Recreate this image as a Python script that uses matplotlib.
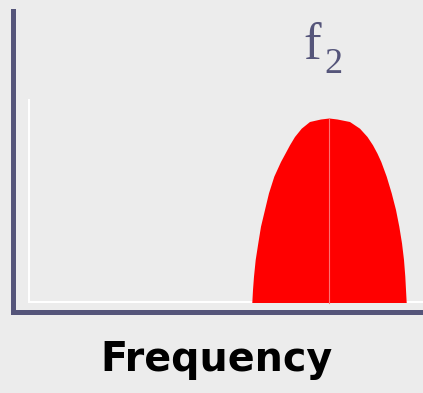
import matplotlib
matplotlib.use("Agg")
import matplotlib.pyplot as plt

# outline of the f2 band (frequency, amplitude)
left_freq = [317.0, 308.5, 297.5, 289.2, 282.5, 277.5, 273.0, 268.5, 261.8,
             256.5, 252.5, 248.5, 245.8, 243.2, 241.5, 240.5, 239.8]
left_amp = [193.0, 192.0, 189.5, 182.8, 174.5, 166.2, 157.8, 149.5, 134.8,
            118.2, 101.5, 84.8, 68.2, 51.5, 34.8, 21.5, 8.5]
right_freq = [325.0, 337.5, 347.5, 355.0, 360.5, 365.0, 368.8, 374.2, 379.2,
              383.5, 386.8, 389.5, 391.5, 392.8, 393.5, 394.2]
right_amp = [192.0, 189.5, 182.8, 174.5, 166.2, 157.8, 149.5, 134.8, 118.2,
             101.5, 84.8, 68.2, 51.5, 34.8, 21.5, 8.5]
center_freq = 316.8
base_amp = 8.5
peak_amp = 193.0

axis_color = "#55557a"
bg = "#ececec"

fig = plt.figure(figsize=(4.23, 3.93), dpi=100, facecolor=bg)
ax = fig.add_axes([12.5 / 423, 81.5 / 393, 410.5 / 423, 301 / 393])
ax.set_facecolor(bg)
ax.set_xlim(0, 410.5)
ax.set_ylim(0, 301)

# faint inner frame left over on the slide
ax.plot([16.5, 16.5], [211.5, 9.5], color="white", lw=1.5)
ax.plot([16.5, 410.5], [9.5, 9.5], color="white", lw=1.5)

xs = left_freq[::-1] + right_freq
ys = left_amp[::-1] + right_amp
ax.fill(xs, ys, color="#ff0000", lw=0, zorder=3, antialiased=True)
ax.plot([center_freq, center_freq], [base_amp, peak_amp], color="#ff7070",
        lw=0.8, zorder=4)

for side in ("top", "right"):
    ax.spines[side].set_visible(False)
for side in ("left", "bottom"):
    ax.spines[side].set_color(axis_color)
    ax.spines[side].set_linewidth(3.6)
ax.set_xticks([])
ax.set_yticks([])

fig.text(303 / 423, 1 - 59 / 393, "f", family="Liberation Serif",
         fontsize=38, color=axis_color, va="baseline", ha="left")
fig.text(324 / 423, 1 - 73 / 393, "2", family="Liberation Serif",
         fontsize=26, color=axis_color, va="baseline", ha="left")
fig.text(216.5 / 423, 1 - 371 / 393, "Frequency", family="DejaVu Sans",
         fontweight="bold", fontsize=28.5, color="black", va="baseline",
         ha="center")

fig.savefig("out.png", dpi=100, facecolor=bg)
plt.close(fig)
